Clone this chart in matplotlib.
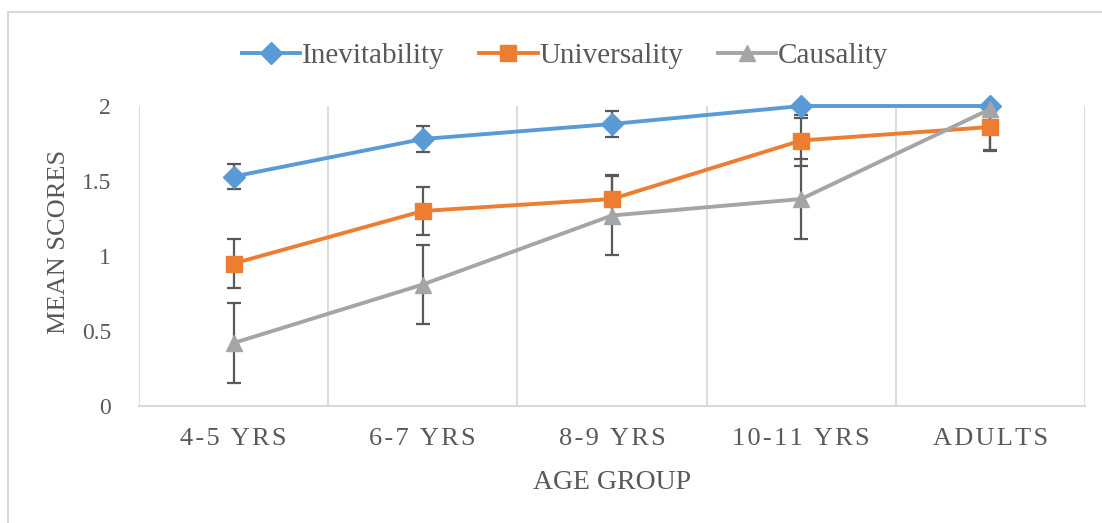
import matplotlib
matplotlib.use('Agg')
import matplotlib.pyplot as plt
from matplotlib.patches import Rectangle

# datos
grupos = ['4-5 YRS', '6-7 YRS', '8-9 YRS', '10-11 YRS', 'ADULTS']
inevitability = [1.53, 1.78, 1.88, 2.00, 2.00]
inevitability_err = [0.085, 0.085, 0.085, 0.08, 0.0]
universality = [0.95, 1.30, 1.38, 1.77, 1.86]
universality_err = [0.163, 0.163, 0.16, 0.17, 0.16]
causality = [0.42, 0.81, 1.27, 1.38, 1.98]
causality_err = [0.265, 0.265, 0.265, 0.265, 0.27]

plt.rcParams['font.family'] = ['Liberation Serif', 'DejaVu Serif']
GRIS_TXT = '#595959'
GRIS_LINEA = '#D9D9D9'

fig = plt.figure(figsize=(11.02, 5.23), dpi=100)
ax = fig.add_axes([139 / 1102, 1 - 406 / 523, (1085 - 139) / 1102, 300 / 523])

x = list(range(len(grupos)))
series = [
    ('Inevitability', inevitability, inevitability_err, '#5B9BD5', 'D', 11),
    ('Universality', universality, universality_err, '#ED7D31', 's', 11),
    ('Causality', causality, causality_err, '#A5A5A5', '^', 12),
]

# barras de error (recortadas al area del grafico, como en Excel)
for nombre, vals, err, color, marker, ms in series:
    ax.errorbar(x, vals, yerr=err, fmt='none', ecolor=GRIS_TXT, elinewidth=1.6,
                capsize=5, capthick=1.6, zorder=2, clip_on=True)

for nombre, vals, err, color, marker, ms in series:
    ax.plot(x, vals, color=color, lw=2.8, marker=marker, markersize=ms,
            label=nombre, zorder=3, clip_on=False)

ax.set_xlim(-0.5, len(grupos) - 0.5)
ax.set_ylim(0, 2)
ax.set_yticks([0, 0.5, 1, 1.5, 2])
ax.set_yticklabels(['0', '0.5', '1', '1.5', '2'])

# etiquetas con espaciado entre letras
etiquetas = ['\u200a'.join(g) for g in grupos]
ax.set_xticks(x)
ax.set_xticklabels(etiquetas)

for v in [i - 0.5 for i in range(len(grupos) + 1)]:
    ax.axvline(v, color=GRIS_LINEA, lw=1.3, zorder=1)

for s in ['top', 'right', 'left']:
    ax.spines[s].set_visible(False)
ax.spines['bottom'].set_color(GRIS_LINEA)
ax.spines['bottom'].set_linewidth(1.5)

ax.tick_params(axis='both', length=0, colors=GRIS_TXT)
ax.tick_params(axis='y', labelsize=17, pad=20)
ax.tick_params(axis='x', labelsize=19, pad=16)

ax.set_ylabel('MEAN SCORES', fontsize=19, color=GRIS_TXT)
ax.yaxis.set_label_coords(-0.073, 0.547)
ax.set_xlabel('AGE GROUP', fontsize=20, color=GRIS_TXT, labelpad=14)

leg = ax.legend(loc='center', bbox_to_anchor=(565 / 1102, 1 - 56 / 523),
                bbox_transform=fig.transFigure, ncol=3, frameon=False,
                fontsize=21, handlelength=2.0, handletextpad=0.05,
                columnspacing=1.2)
for t in leg.get_texts():
    t.set_color(GRIS_TXT)

# borde del area del grafico
fig.patches.append(Rectangle((8 / 1102, -0.1), 1.2, 1 - 12 / 523 + 0.1,
                             transform=fig.transFigure, fill=False,
                             edgecolor=GRIS_LINEA, lw=1.5))

fig.savefig('out.png', dpi=100)
